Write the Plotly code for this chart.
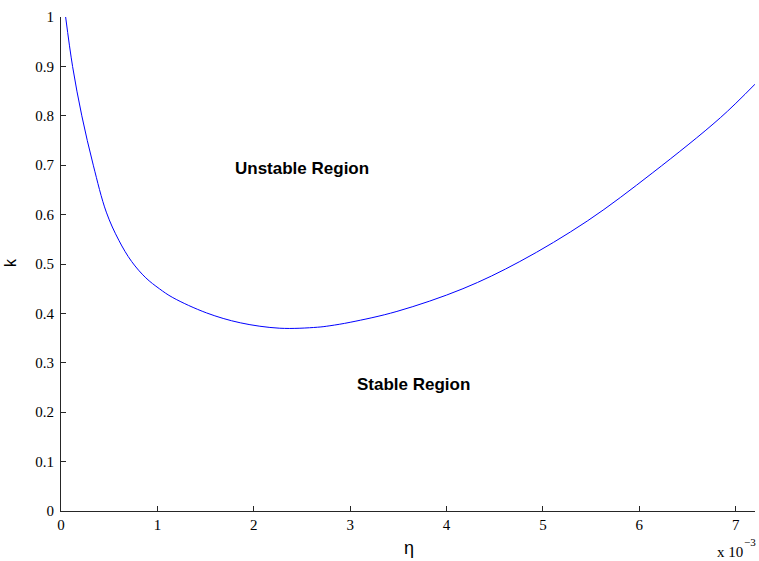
import plotly.graph_objects as go

# eta in units of 1e-3
eta_e3 = [0.048, 0.12, 0.216, 0.335, 0.47, 0.6, 0.733, 0.88, 1.02, 1.16, 1.51, 1.86, 2.27,
          2.66, 2.79, 3.0, 3.485, 4.17, 4.76, 5.46, 6.14, 6.84, 7.2]
k_vals = [1.0, 0.9, 0.80, 0.70, 0.605, 0.548, 0.505, 0.472, 0.45, 0.432, 0.401, 0.381, 0.370,
          0.372, 0.375, 0.382, 0.404, 0.45, 0.505, 0.587, 0.685, 0.796, 0.864]

x_ticks = [0, 1, 2, 3, 4, 5, 6, 7]
y_ticks = [0, 0.1, 0.2, 0.3, 0.4, 0.5, 0.6, 0.7, 0.8, 0.9, 1]
y_ticktext = ["0", "0.1", "0.2", "0.3", "0.4", "0.5", "0.6", "0.7", "0.8", "0.9", "1"]

eta = [v * 1e-3 for v in eta_e3]

W, H = 759, 561
L, R, T, B = 61, 4, 17, 50

fig = go.Figure()
fig.add_trace(go.Scatter(x=eta, y=k_vals, mode="lines",
                         line=dict(color="#0000FF", width=1, shape="spline", smoothing=1.0),
                         showlegend=False, hoverinfo="skip"))

serif = "Liberation Serif, Times New Roman, serif"
sans = "Liberation Sans, Arial, sans-serif"

pw = W - L - R
ph = H - T - B


def px(xp, yp):
    return (xp - L) / pw, (H - B - yp) / ph


def pann(text, xp, yp, font, xanchor="center", yanchor="middle", angle=0):
    x, y = px(xp, yp)
    return dict(text=text, x=x, y=y, xref="paper", yref="paper", showarrow=False,
                xanchor=xanchor, yanchor=yanchor, font=font, textangle=angle)


fig.update_layout(
    width=W, height=H,
    margin=dict(l=L, r=R, t=T, b=B),
    plot_bgcolor="white", paper_bgcolor="white",
    xaxis=dict(range=[0, 7.2e-3], tickvals=[v * 1e-3 for v in x_ticks],
               ticktext=[str(v) for v in x_ticks], automargin=False,
               ticks="inside", ticklen=5, tickcolor="#262626",
               showline=True, linecolor="#262626", linewidth=1,
               showgrid=False, zeroline=False,
               tickfont=dict(family=serif, size=15, color="#000")),
    yaxis=dict(range=[0, 1], tickvals=y_ticks, ticktext=y_ticktext, automargin=False,
               ticks="inside", ticklen=5, tickcolor="#262626",
               showline=True, linecolor="#262626", linewidth=1,
               showgrid=False, zeroline=False, ticklabelstandoff=3,
               tickfont=dict(family=serif, size=15, color="#000")),
    annotations=[
        dict(text="<b>Unstable Region</b>", x=2.5e-3, y=0.693, xref="x", yref="y",
             showarrow=False, font=dict(family=sans, size=17, color="#000")),
        dict(text="<b>Stable Region</b>", x=3.66e-3, y=0.256, xref="x", yref="y",
             showarrow=False, font=dict(family=sans, size=17, color="#000")),
        pann("k", 10, 263, dict(family=sans, size=16, color="#000"), angle=-90),
        pann("η", 409, 548, dict(family=sans, size=18, color="#000")),
        pann("x 10", 745, 552, dict(family=serif, size=15, color="#000"), xanchor="right"),
        pann("−3", 758, 542, dict(family=serif, size=11, color="#000"), xanchor="right"),
    ],
)

fig.write_html("out.html", config={"displayModeBar": False},
               post_script="document.body.style.margin='0';")
